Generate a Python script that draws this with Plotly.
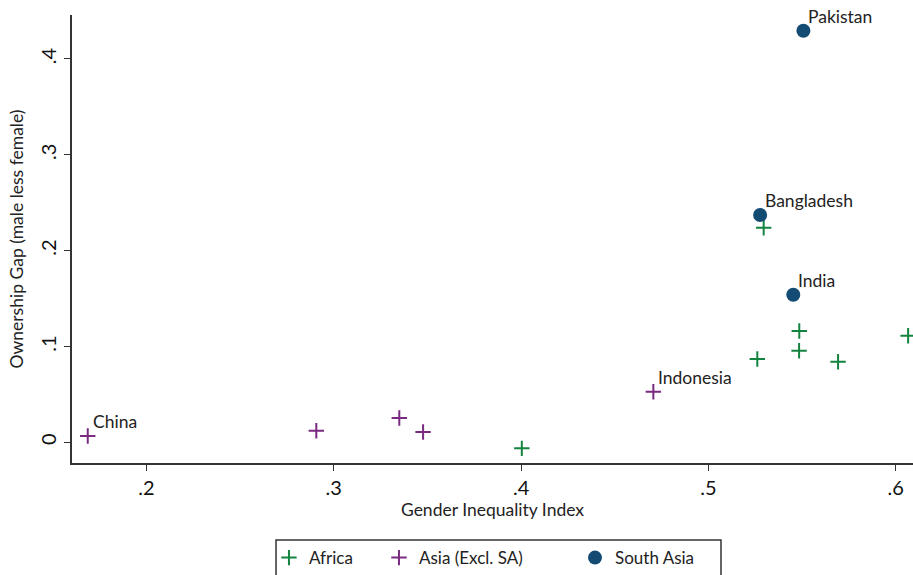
import plotly.graph_objects as go

# Gender Inequality Index vs. ownership gap, by region
africa_gii = [0.4004, 0.5295, 0.5485, 0.5484, 0.5261, 0.5692, 0.6066]
africa_gap = [-0.0063, 0.2239, 0.1161, 0.0956, 0.0869, 0.0841, 0.1112]

asia_gii = [0.1687, 0.2907, 0.3350, 0.3477, 0.4706]
asia_gap = [0.0066, 0.0121, 0.0254, 0.0107, 0.0528]
asia_names = ["China", "", "", "", "Indonesia"]

sa_gii = [0.5507, 0.5276, 0.5453]
sa_gap = [0.4295, 0.2372, 0.1540]
sa_names = ["Pakistan", "Bangladesh", "India"]

x_ticks = [0.2, 0.3, 0.4, 0.5, 0.6]
x_ticktext = [".2", ".3", ".4", ".5", ".6"]
y_ticks = [0, 0.1, 0.2, 0.3, 0.4]
y_ticktext = ["0", ".1", ".2", ".3", ".4"]

GREEN = "#13843f"
PURPLE = "#7a2a80"
NAVY = "#134b73"
FONT = "Lato"
LABEL_FONT = dict(family=FONT, size=17.5, color="#222222")

fig = go.Figure()

fig.add_trace(go.Scatter(
    x=africa_gii, y=africa_gap, mode="markers", name="Africa", legend="legend",
    showlegend=True,
    marker=dict(symbol="cross-thin", size=11, line=dict(color=GREEN, width=2)),
))
fig.add_trace(go.Scatter(
    x=asia_gii, y=asia_gap, mode="markers", name="Asia (Excl. SA)", legend="legend2",
    showlegend=True,
    marker=dict(symbol="cross-thin", size=11, line=dict(color=PURPLE, width=2)),
))
fig.add_trace(go.Scatter(
    x=sa_gii, y=sa_gap, mode="markers", name="South Asia", legend="legend3",
    showlegend=True,
    marker=dict(symbol="circle", size=14, color=NAVY),
))

# country labels sit just above and to the right of their markers
for xs, ys, names in [(asia_gii, asia_gap, asia_names), (sa_gii, sa_gap, sa_names)]:
    for xv, yv, name in zip(xs, ys, names):
        if name:
            fig.add_annotation(
                x=xv, y=yv, text=name, showarrow=False,
                xanchor="left", yanchor="bottom", xshift=3, yshift=2,
                font=LABEL_FONT,
            )

axis_common = dict(
    showgrid=False, zeroline=False, showline=True, linecolor="#333333",
    linewidth=1.5, ticks="outside", ticklen=6, tickcolor="#333333",
    tickfont=dict(family=FONT, size=20, color="#111111"),
)

legend_common = dict(
    orientation="h", xanchor="left", y=-0.172, yanchor="top",
    bgcolor="rgba(0,0,0,0)", borderwidth=0,
    font=dict(family=FONT, size=17, color="#222222"),
)

fig.update_layout(
    width=913, height=575,
    showlegend=True,
    margin=dict(l=72, r=0, t=15, b=112, autoexpand=False),
    paper_bgcolor="white", plot_bgcolor="white",
    font=dict(family=FONT, color="#222222"),
    xaxis=dict(
        range=[0.1603, 0.6092], tickvals=x_ticks, ticktext=x_ticktext,
        title=dict(text="Gender Inequality Index", font=dict(family=FONT, size=17.5), standoff=6),
        **axis_common,
    ),
    yaxis=dict(
        range=[-0.0216, 0.4459], tickvals=y_ticks, ticktext=y_ticktext,
        tickangle=-90,
        title=dict(text="Ownership Gap (male less female)", font=dict(family=FONT, size=17.5), standoff=8),
        **axis_common,
    ),
    legend=dict(x=0.2342, **legend_common),
    legend2=dict(x=0.3650, **legend_common),
    legend3=dict(x=0.5981, **legend_common),
    shapes=[dict(
        type="rect", xref="paper", yref="paper",
        x0=0.2426, x1=0.7717, y0=-0.1719, y1=-0.30,
        line=dict(color="#333333", width=1.5), fillcolor="rgba(0,0,0,0)",
    )],
)

fig.write_html("out.html")
